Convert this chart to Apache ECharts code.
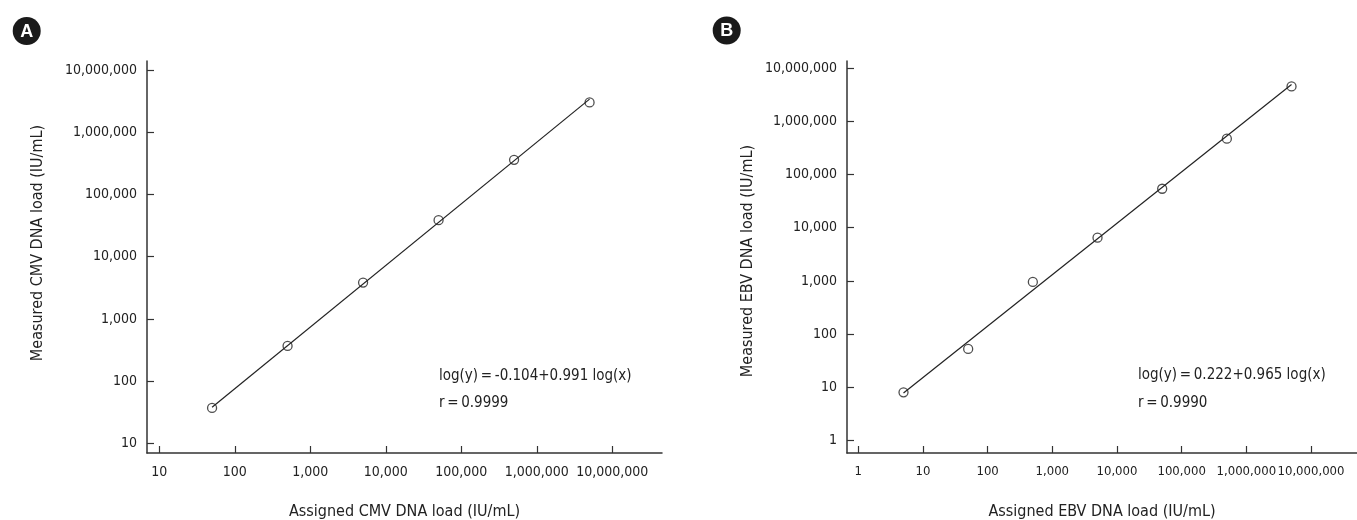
<!DOCTYPE html>
<html>
<head>
<meta charset="utf-8">
<script src="https://cdn.jsdelivr.net/npm/echarts@6/dist/echarts.min.js"></script>
<style>
  html, body { margin: 0; padding: 0; background: #fff; }
  #main { width: 1357px; height: 520px; }
</style>
</head>
<body>
<div id="main"></div>
<script>
// panel A: CMV
const cmvAssigned = [50, 500, 5000, 50000, 500000, 5000000];
const cmvMeasured = [37, 367, 3830, 38600, 360000, 3010000];
const cmvFitX = [50, 5000000];
const cmvFitY = [38, 3400000];
const cmvRange = [10, 10000000];

// panel B: EBV
const ebvAssigned = [5, 50, 500, 5000, 50000, 500000, 5000000];
const ebvMeasured = [8.1, 53, 960, 6500, 54000, 470000, 4500000];
const ebvFitX = [5, 5000000];
const ebvFitY = [7.9, 4900000];
const ebvRange = [1, 10000000];

const FONT = "'DejaVu Sans Condensed', 'Liberation Sans', sans-serif";
const INK = '#222';
const AXIS = '#333';

function pairs(xs, ys) {
  return xs.map(function (x, i) { return [x, ys[i]]; });
}

function fmt(v) {
  return Math.round(v).toLocaleString('en-US');
}

// frame axes: just the long axis line (plus the x title)
function frameAxis(gridIndex, name) {
  return {
    type: 'value', gridIndex: gridIndex, min: 0, max: 1,
    name: name || '',
    nameLocation: 'middle',
    nameGap: 51,
    nameTextStyle: { fontFamily: FONT, fontSize: 16, color: INK },
    axisLine: { show: true, onZero: false, lineStyle: { color: AXIS, width: 1.5 } },
    axisTick: { show: false },
    axisLabel: { show: false },
    splitLine: { show: false }
  };
}

// log axes spanning exactly the decades, shifted out onto the frame line
function logAxis(gridIndex, range, offset, margin, size) {
  return {
    type: 'log', gridIndex: gridIndex,
    min: range[0], max: range[1],
    offset: offset,
    axisLine: { show: false },
    axisTick: { show: true, inside: true, length: 7, lineStyle: { color: AXIS, width: 1.2 } },
    axisLabel: {
      formatter: fmt, margin: margin, hideOverlap: false,
      showMinLabel: true, showMaxLabel: true,
      fontFamily: FONT, fontSize: size, color: INK
    },
    splitLine: { show: false },
    minorTick: { show: false }
  };
}

function scatter(gi, xs, ys) {
  return {
    type: 'scatter', xAxisIndex: gi, yAxisIndex: gi,
    data: pairs(xs, ys),
    symbol: 'circle', symbolSize: 9,
    itemStyle: { color: 'rgba(0,0,0,0)', borderColor: INK, borderWidth: 1.3 },
    z: 3
  };
}

function fit(gi, xs, ys) {
  return {
    type: 'line', xAxisIndex: gi, yAxisIndex: gi,
    data: pairs(xs, ys),
    showSymbol: false,
    lineStyle: { color: INK, width: 1.2 },
    z: 2
  };
}

function badge(cx, cy, letter) {
  return [
    { type: 'circle', shape: { cx: cx, cy: cy, r: 14 }, style: { fill: '#1a1a1a' } },
    { type: 'text', x: cx, y: cy + 1, style: { text: letter, fill: '#fff', font: "bold 18px 'Liberation Sans', sans-serif", align: 'center', verticalAlign: 'middle' } }
  ];
}

function note(x, y, text) {
  return { type: 'text', x: x, y: y, style: { text: text, fill: INK, font: '15px ' + FONT, verticalAlign: 'middle' } };
}

function yTitle(x, y, text) {
  return { type: 'text', x: x, y: y, rotation: Math.PI / 2, style: { text: text, fill: INK, font: '16px ' + FONT, align: 'center', verticalAlign: 'middle' } };
}

function grid(left, right, top, bottom) {
  return { left: left, right: right, top: top, bottom: bottom, containLabel: false, outerBoundsMode: 'none' };
}

const chart = echarts.init(document.getElementById('main'));
const option = {
  animation: false,
  backgroundColor: '#fff',
  grid: [
    grid(147, 695, 61, 67),
    grid(847, 0, 61, 67),
    grid(159.3, 744.7, 70, 76.7),
    grid(858.3, 46, 68, 79.3)
  ],
  xAxis: [
    frameAxis(0, 'Assigned CMV DNA load (IU/mL)'),
    frameAxis(1, 'Assigned EBV DNA load (IU/mL)'),
    logAxis(2, cmvRange, 9.7, 12, 14),
    logAxis(3, ebvRange, 12.3, 12, 13)
  ],
  yAxis: [
    frameAxis(0),
    frameAxis(1),
    logAxis(2, cmvRange, 12.3, 10, 14),
    logAxis(3, ebvRange, 11.3, 10, 14)
  ],
  series: [
    fit(2, cmvFitX, cmvFitY),
    scatter(2, cmvAssigned, cmvMeasured),
    fit(3, ebvFitX, ebvFitY),
    scatter(3, ebvAssigned, ebvMeasured)
  ],
  graphic: [].concat(
    badge(26.7, 31, 'A'),
    badge(726.7, 30.5, 'B'),
    [
      note(439, 376, 'log(y)\u2009=\u2009-0.104+0.991 log(x)'),
      note(439, 403, 'r\u2009=\u20090.9999'),
      note(1138, 375, 'log(y)\u2009=\u20090.222+0.965 log(x)'),
      note(1138, 403, 'r\u2009=\u20090.9990'),
      yTitle(38, 243, 'Measured CMV DNA load (IU/mL)'),
      yTitle(748, 261, 'Measured EBV DNA load (IU/mL)')
    ]
  )
};
chart.setOption(option);
</script>
</body>
</html>
